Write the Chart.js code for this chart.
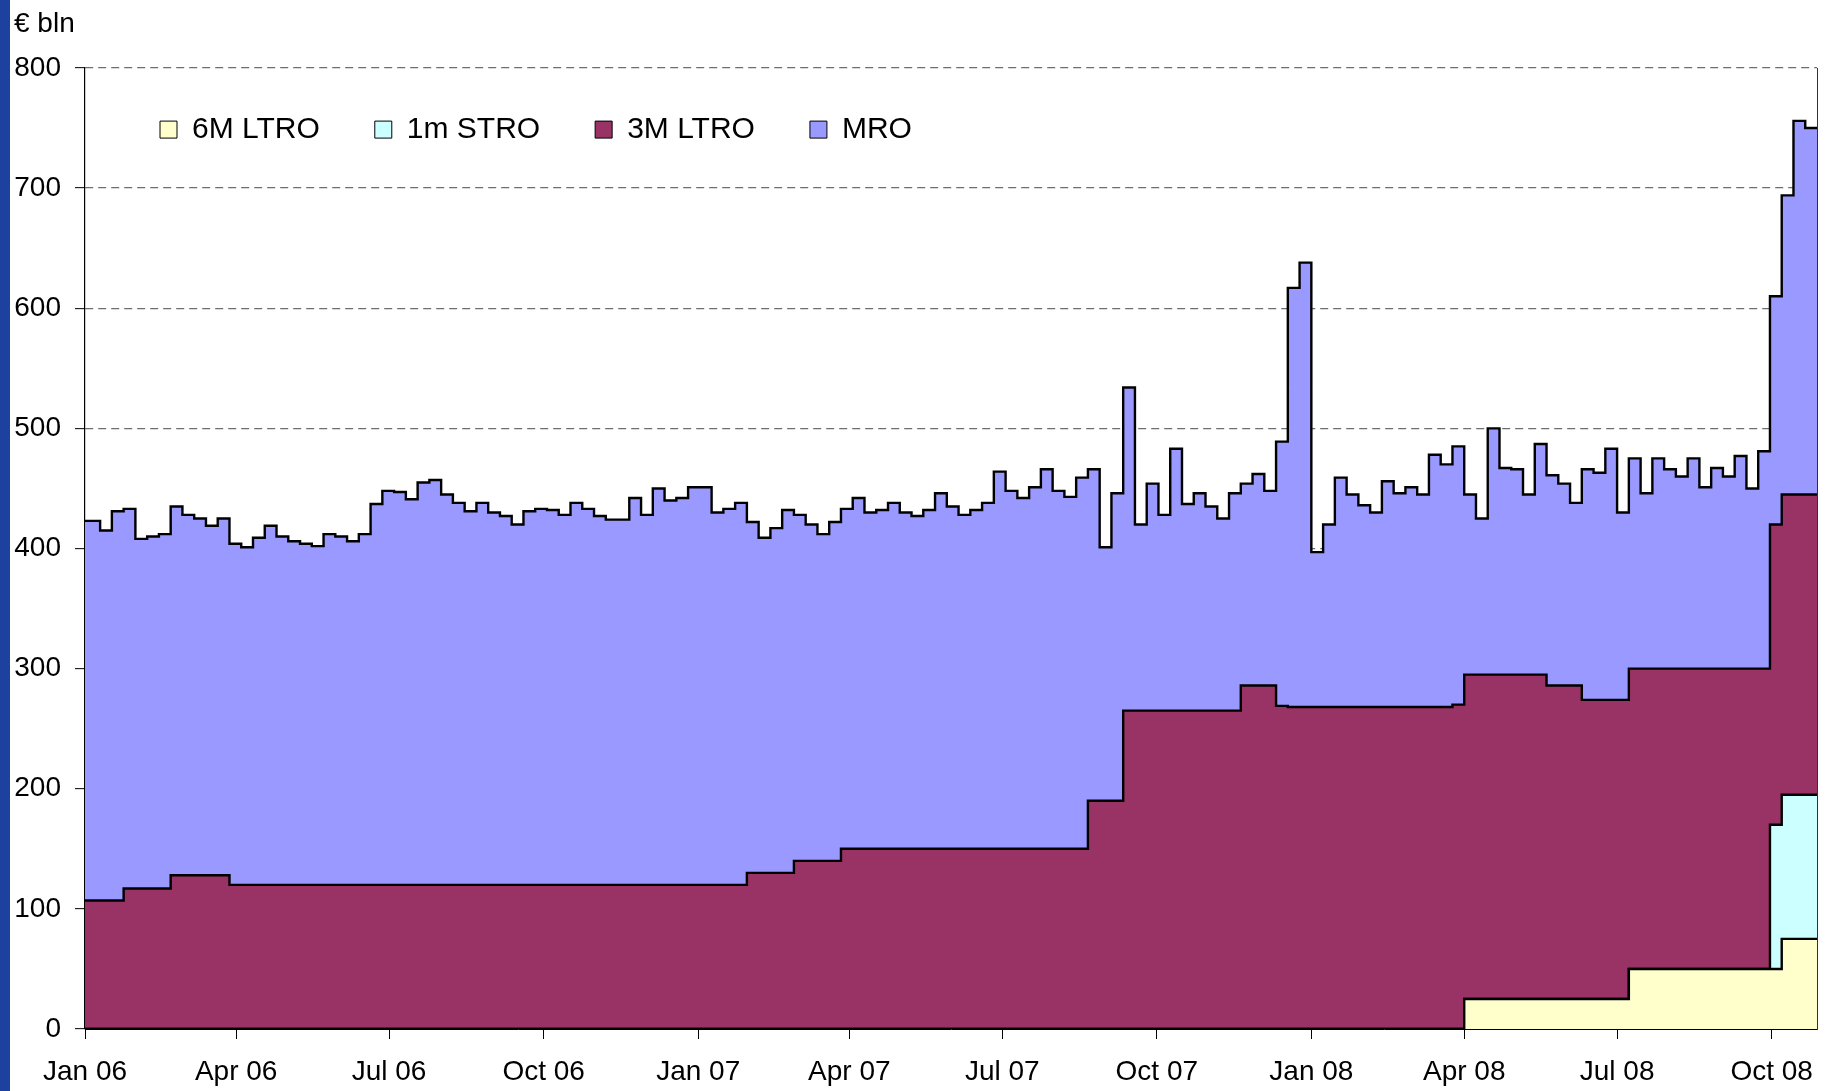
<!DOCTYPE html>
<html><head><meta charset="utf-8">
<script src="https://cdn.jsdelivr.net/npm/chart.js@4.4.1/dist/chart.umd.min.js"></script>
<style>
html,body{margin:0;padding:0;background:#fff;}
#stripe{position:absolute;left:0;top:0;width:10px;height:1091px;background:#1d419f;}
#wrap{position:absolute;left:0;top:0;width:1830px;height:1091px;}
</style></head><body>
<div id="stripe"></div>
<div id="wrap"><canvas id="c"></canvas></div>
<script>
// ---- data (weekly, € bln) ----
const startDate = '2006-01-01';
const weekCount = 148;           // weekly operations, Jan 2006 - late Oct 2008
const tickDates = ['2006-01-01','2006-04-01','2006-07-01','2006-10-01','2007-01-01','2007-04-01',
                   '2007-07-01','2007-10-01','2008-01-01','2008-04-01','2008-07-01','2008-10-01'];
const tickLabels = ['Jan 06','Apr 06','Jul 06','Oct 06','Jan 07','Apr 07',
                    'Jul 07','Oct 07','Jan 08','Apr 08','Jul 08','Oct 08'];
const seriesNames = ['6M LTRO','1m STRO','3M LTRO','MRO'];

const ltro6m = [
  0,0,0,0,0,0,0,0,0,0, 0,0,0,0,0,0,0,0,0,0, 0,0,0,0,0,0,0,0,0,0, 0,0,0,0,0,0,0,0,0,0,
  0,0,0,0,0,0,0,0,0,0, 0,0,0,0,0,0,0,0,0,0, 0,0,0,0,0,0,0,0,0,0, 0,0,0,0,0,0,0,0,0,0,
  0,0,0,0,0,0,0,0,0,0, 0,0,0,0,0,0,0,0,0,0, 0,0,0,0,0,0,0,0,0,0, 0,0,0,0,0,0,0,25,25,25,
  25,25,25,25,25,25,25,25,25,25, 25,50,50,50,50,50,50,50,50,50, 50,50,50,50,75,75,75,75];
const stro1m = [
  0,0,0,0,0,0,0,0,0,0, 0,0,0,0,0,0,0,0,0,0, 0,0,0,0,0,0,0,0,0,0, 0,0,0,0,0,0,0,0,0,0,
  0,0,0,0,0,0,0,0,0,0, 0,0,0,0,0,0,0,0,0,0, 0,0,0,0,0,0,0,0,0,0, 0,0,0,0,0,0,0,0,0,0,
  0,0,0,0,0,0,0,0,0,0, 0,0,0,0,0,0,0,0,0,0, 0,0,0,0,0,0,0,0,0,0, 0,0,0,0,0,0,0,0,0,0,
  0,0,0,0,0,0,0,0,0,0, 0,0,0,0,0,0,0,0,0,0, 0,0,0,120,120,120,120,120];
const ltro3m = [
  107,107,107,117,117,117,117,128,128,128, 128,128,120,120,120,120,120,120,120,120,
  120,120,120,120,120,120,120,120,120,120, 120,120,120,120,120,120,120,120,120,120,
  120,120,120,120,120,120,120,120,120,120, 120,120,120,120,120,120,130,130,130,130,
  140,140,140,140,150,150,150,150,150,150, 150,150,150,150,150,150,150,150,150,150,
  150,150,150,150,150,190,190,190,265,265, 265,265,265,265,265,265,265,265,286,286,
  286,269,268,268,268,268,268,268,268,268, 268,268,268,268,268,268,270,270,270,270,
  270,270,270,270,261,261,261,249,249,249, 249,250,250,250,250,250,250,250,250,250,
  250,250,250,250,250,250,250,250];
const mro = [
  316,308,324,316,291,293,295,307,300,297, 291,297,284,281,289,299,290,286,284,282,
  292,290,286,292,317,328,327,321,335,337, 325,318,311,318,310,307,300,311,313,312,
  308,318,313,307,304,304,322,308,330,320, 322,331,331,310,313,318,292,279,287,302,
  288,280,272,282,283,292,280,282,288,280, 277,282,296,285,278,282,288,314,298,292,
  301,316,298,293,309,276,211,256,269,155, 189,163,218,172,181,170,160,181,168,176,
  162,220,349,370,129,152,191,177,168,162, 188,178,183,177,210,202,215,150,130,205,
  172,171,150,192,175,168,152,192,189,209, 156,175,146,175,166,160,175,151,167,160,
  177,150,181,190,249,311,305,305];

// ---- build ----
const DAY = 86400000;
const dayOf = d => (Date.parse(d) - Date.parse(startDate)) / DAY;
const lastDay = 1031;
const weekDays = Array.from({length: weekCount}, (_, k) => k === 0 ? 0 : Math.min(2 + 7 * k, lastDay));
const tickDays = tickDates.map(dayOf);

Chart.defaults.font.family = "'Liberation Sans', Arial, sans-serif";
Chart.defaults.color = '#000';

const fills = ['#FFFFCC', '#CCFFFF', '#993366', '#9999FF'];
const series = [ltro6m, stro1m, ltro3m, mro];
const datasets = series.map((vals, i) => ({
  label: seriesNames[i],
  data: vals.map((v, k) => ({x: weekDays[k], y: v})),
  backgroundColor: fills[i],
  borderColor: '#000',
  borderWidth: 2.4,
  borderJoinStyle: 'miter',
  fill: i === 0 ? 'origin' : '-1',
  stepped: true,
  pointRadius: 0,
  pointHoverRadius: 0,
  tension: 0,
  yAxisID: 'y'
}));

// legend drawn inside the plot area (as in the original): it takes almost no layout height
const legendPlace = {
  id: 'legendPlace',
  beforeLayout(chart) {
    const lg = chart.legend;
    if (lg && !lg._patched) {
      const fit = lg.fit;
      lg.fit = function () { fit.call(this); this._natH = this.height; this.height = 8.4; };
      lg._patched = true;
    }
  },
  afterLayout(chart) {
    const lg = chart.legend;
    lg.left += 20;
    lg.right += 20;
    lg.height = lg._natH;
    lg.bottom = lg.top + lg._natH;
  }
};

new Chart(document.getElementById('c'), {
  type: 'line',
  data: {datasets},
  plugins: [legendPlace],
  options: {
    responsive: true,
    maintainAspectRatio: false,
    animation: false,
    devicePixelRatio: 1,
    layout: {padding: {left: 14, right: 13, top: 0, bottom: 2.4}},
    plugins: {
      tooltip: {enabled: false},
      title: {
        display: true, text: '€ bln', align: 'start', color: '#000',
        font: {size: 28, weight: 'normal'}, padding: {top: 7, bottom: 19}
      },
      legend: {
        display: true, position: 'top', align: 'start', fullSize: false,
        labels: {
          boxWidth: 17, boxHeight: 17, padding: 55, color: '#000', font: {size: 30},
          generateLabels(chart) {
            return Chart.defaults.plugins.legend.labels.generateLabels(chart)
              .map(l => Object.assign(l, {lineWidth: 1, strokeStyle: '#000'}));
          }
        }
      }
    },
    scales: {
      x: {
        type: 'linear', min: 0, max: lastDay,
        afterBuildTicks(scale) { scale.ticks = tickDays.map(v => ({value: v})); },
        afterFit(scale) { scale.height = 59.6; },
        ticks: {
          callback: (v, i) => tickLabels[i], autoSkip: false, maxRotation: 0,
          font: {size: 28}, color: '#000', padding: 16
        },
        grid: {drawOnChartArea: false, drawTicks: true, tickLength: 10, tickColor: '#000', tickWidth: 1},
        border: {color: '#000', width: 1}
      },
      y: {
        stacked: true, min: 0, max: 800,
        afterFit(scale) { scale.width = 71; },
        ticks: {stepSize: 100, font: {size: 28}, color: '#000', padding: 14},
        grid: {
          color: c => (c.tick && c.tick.value === 0) ? 'rgba(0,0,0,0)' : '#6e6e6e',
          lineWidth: 1.3, drawTicks: true, tickLength: 10, tickColor: '#000', tickWidth: 1, tickBorderDash: []
        },
        border: {color: '#000', width: 1.2, dash: [8, 5]}
      },
      yR: {
        position: 'right', min: 0, max: 800,
        ticks: {display: false},
        grid: {display: false, drawTicks: false},
        border: {color: '#333', width: 1}
      }
    }
  }
});
</script>
</body></html>
